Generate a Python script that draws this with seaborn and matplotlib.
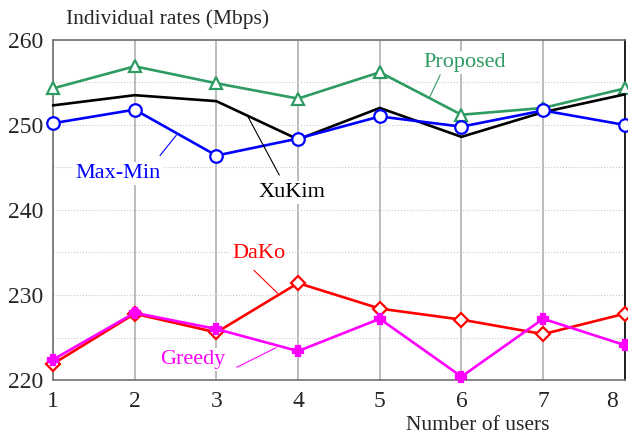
import numpy as np
import pandas as pd
import seaborn as sns
import matplotlib.pyplot as plt
from matplotlib.transforms import ScaledTranslation

# Data
users = [1, 2, 3, 4, 5, 6, 7, 8]
proposed = [254.3, 256.9, 254.9, 253.1, 256.2, 251.2, 252.0, 254.3]
xukim = [252.3, 253.5, 252.8, 248.3, 252.0, 248.6, 251.5, 253.6]
maxmin = [250.2, 251.8, 246.4, 248.4, 251.0, 249.8, 251.7, 250.0]
dako = [221.9, 227.8, 225.6, 231.4, 228.4, 227.1, 225.4, 227.8]
greedy = [222.4, 227.9, 226.0, 223.4, 227.2, 220.4, 227.2, 224.1]

y_ticks = [220, 230, 240, 250, 260]

sns.set_style("white")
plt.rcParams['font.family'] = ['Liberation Serif', 'DejaVu Serif']

fig = plt.figure(figsize=(6.28, 4.34), dpi=100)
ax = fig.add_axes([0.0844, 0.1244, 0.9106, 0.7836])

# Style per series: (values, colour, marker, marker size, filled)
series = {
    'Proposed': (proposed, '#2e9b62', '^', 8, False),
    'XuKim': (xukim, 'black', None, 0, False),
    'Max-Min': (maxmin, '#0000ff', 'o', 9, False),
    'DaKo': (dako, '#ff0000', 'D', 7, False),
    'Greedy': (greedy, '#ff00ff', 'P', 7, True),
}

for name, (vals, color, marker, ms, filled) in series.items():
    df = pd.DataFrame({'users': users, 'rate': vals})
    kw = dict(marker=marker, markersize=ms, markeredgecolor=color,
              markeredgewidth=1.6)
    if marker is not None:
        kw['markerfacecolor'] = color if filled else 'white'
    sns.lineplot(data=df, x='users', y='rate', color=color, linewidth=1.9,
                 ax=ax, zorder=3, clip_on=False, **kw)

ax.set_xlim(1, 8)
ax.set_ylim(220, 260)
ax.set_xticks(users)
ax.set_yticks(y_ticks)
ax.set_yticks([225, 235, 245, 255], minor=True)
ax.tick_params(axis='both', which='both', length=0, labelsize=17)
ax.tick_params(axis='x', pad=8)
ax.tick_params(axis='y', pad=7)

# last x tick label sits left of the tick, as in the reference
last = ax.get_xticklabels()[-1]
last.set_transform(last.get_transform() +
                   ScaledTranslation(-0.13, 0, fig.dpi_scale_trans))

ax.grid(True, axis='x', color='#b0b0b0', linewidth=1.2, linestyle='-')
ax.grid(True, axis='y', which='both', color='#c8c8c8', linewidth=0.8,
        linestyle=':')
ax.set_axisbelow(True)

for side in ['left', 'bottom', 'top']:
    ax.spines[side].set_color('#707070')
    ax.spines[side].set_linewidth(1.2)
ax.spines['right'].set_color('black')
ax.spines['right'].set_linewidth(1.2)

ax.set_xlabel('')
ax.set_ylabel('')
fig.text(0.105, 0.955, 'Individual rates (Mbps)', fontsize=15.5,
         ha='left', va='center')
fig.text(0.761, 0.02, 'Number of users', fontsize=15.5, ha='center',
         va='center')

# Callout labels with leader lines: text pos, line start, line end
labels = [
    ('Proposed', '#2e9b62', (6.04, 257.4), (5.74, 255.9), (5.61, 253.25)),
    ('Max-Min', '#0000ff', (1.80, 244.3), (2.31, 246.4), (2.51, 248.8)),
    ('XuKim', 'black', (3.93, 242.0), (3.77, 244.1), (3.39, 250.9)),
    ('DaKo', '#ff0000', (3.52, 234.9), (3.46, 232.9), (3.75, 230.2)),
    ('Greedy', '#ff00ff', (2.71, 222.4), (3.25, 221.5), (3.73, 223.8)),
]
for text, color, txt_pos, start, tip in labels:
    ax.annotate('', xy=tip, xytext=start,
                arrowprops=dict(arrowstyle='-', color=color, lw=0.8,
                                shrinkA=0, shrinkB=0),
                zorder=4)
    ax.text(txt_pos[0], txt_pos[1], text, color=color, fontsize=16,
            ha='center', va='center', zorder=5,
            bbox=dict(facecolor='white', edgecolor='none', pad=1.5))

fig.savefig('out.png', dpi=100)
